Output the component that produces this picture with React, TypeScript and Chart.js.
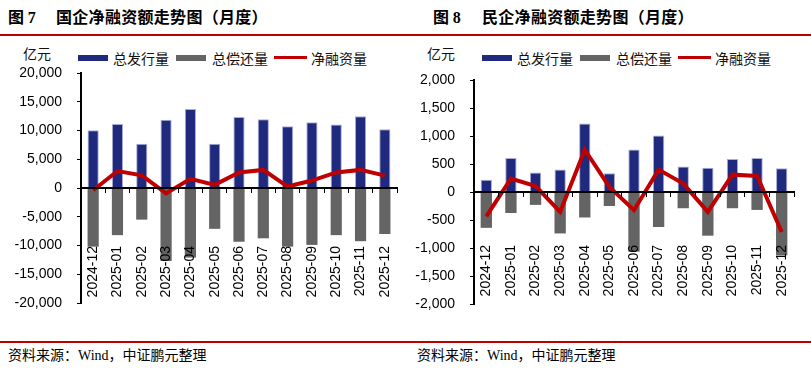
import React, { useEffect, useRef } from 'react';
import { Chart, registerables } from 'chart.js';

Chart.register(...registerables);

const categories = ['2024-12', '2025-01', '2025-02', '2025-03', '2025-04', '2025-05', '2025-06', '2025-07', '2025-08', '2025-09', '2025-10', '2025-11', '2025-12'];

// 国企 (state-owned enterprises), 亿元
const soeIssue = [10050, 11150, 7700, 11850, 13750, 7700, 12350, 11950, 10750, 11450, 11050, 12500, 10200];
const soeRepay = [-10200, -8200, -5500, -12700, -12100, -7100, -9350, -8750, -10200, -9900, -8200, -9250, -8000];
const soeNet = [-400, 2950, 2200, -950, 1600, 550, 2700, 3150, 250, 1300, 2700, 3150, 2150];

// 民企 (private enterprises), 亿元
const poeIssue = [220, 605, 350, 400, 1225, 335, 760, 1010, 455, 435, 590, 605, 425];
const poeRepay = [-640, -375, -230, -740, -455, -250, -1065, -625, -290, -780, -290, -320, -1130];
const poeNet = [-435, 240, 105, -355, 755, 90, -325, 400, 150, -355, 310, 285, -715];

const seriesNames = ['总发行量', '总偿还量', '净融资量'];
const BLUE = '#1f2a7e';
const GREY = '#646464';
const RED = '#c00000';

type PanelProps = {
  left: number;
  width: number;
  issue: number[];
  repay: number[];
  net: number[];
  min: number;
  max: number;
  step: number;
  padTop: number;
  padBottom: number;
  padRight: number;
  yWidth: number;
  xLabelPad: number;
};

function Panel(p: PanelProps) {
  const ref = useRef<HTMLCanvasElement | null>(null);
  useEffect(() => {
    if (!ref.current) return;
    const tickFont = { family: '"Liberation Sans", Arial, sans-serif', size: 14 };
    const chart = new Chart(ref.current, {
      type: 'bar',
      data: {
        labels: categories,
        datasets: [
          {
            type: 'line',
            label: seriesNames[2],
            data: p.net,
            borderColor: RED,
            backgroundColor: RED,
            borderWidth: 4,
            pointRadius: 0,
            tension: 0,
            order: 0,
          } as any,
          {
            label: seriesNames[0],
            data: p.issue,
            backgroundColor: BLUE,
            borderColor: '#a9acd6',
            borderWidth: 1,
            grouped: false,
            categoryPercentage: 1,
            barPercentage: 0.46,
            order: 1,
          } as any,
          {
            label: seriesNames[1],
            data: p.repay,
            backgroundColor: GREY,
            borderWidth: 0,
            grouped: false,
            categoryPercentage: 1,
            barPercentage: 0.46,
            order: 2,
          } as any,
        ],
      },
      options: {
        animation: false,
        responsive: false,
        maintainAspectRatio: false,
        layout: { padding: { left: 0, right: p.padRight, top: p.padTop, bottom: p.padBottom } },
        plugins: { legend: { display: false }, tooltip: { enabled: false } },
        scales: {
          x: {
            position: { y: 0 } as any,
            offset: true,
            afterFit: (s: any) => { s.paddingLeft = 0; s.paddingRight = 0; },
            grid: { display: true, drawOnChartArea: false, drawTicks: true, tickLength: 4, color: '#000', offset: true, z: 1 },
            border: { display: true, color: '#000', width: 2, z: 1 },
            ticks: {
              autoSkip: false,
              minRotation: 90,
              maxRotation: 90,
              padding: p.xLabelPad,
              color: '#000',
              font: tickFont,
              z: 1,
            },
          },
          y: {
            min: p.min,
            max: p.max,
            afterFit: (s: any) => { s.width = p.yWidth; },
            grid: { display: true, drawOnChartArea: false, drawTicks: true, tickLength: 4, color: '#000' },
            border: { display: true, color: '#000', width: 2 },
            ticks: {
              stepSize: p.step,
              padding: 15,
              color: '#000',
              font: tickFont,
              callback: (v: any) => Number(v).toLocaleString('en-US'),
            },
          },
        },
      },
    });
    return () => chart.destroy();
  }, []);
  return (
    <canvas
      ref={ref}
      width={p.width}
      height={300}
      style={{ position: 'absolute', left: p.left, top: 40, width: p.width, height: 300 }}
    />
  );
}

const cjk = '"Noto Sans CJK SC", "Noto Sans", sans-serif';

function Legend({ x }: { x: number }) {
  const txt: React.CSSProperties = { position: 'absolute', top: 49, fontFamily: cjk, fontSize: 14, lineHeight: '18px', color: '#111', whiteSpace: 'nowrap' };
  return (
    <>
      <div style={{ position: 'absolute', left: x - 55, top: 44, fontFamily: cjk, fontSize: 14, lineHeight: '18px', color: '#111' }}>亿元</div>
      <div style={{ position: 'absolute', left: x, top: 55, width: 30, height: 6, background: BLUE }} />
      <div style={{ ...txt, left: x + 35 }}>{seriesNames[0]}</div>
      <div style={{ position: 'absolute', left: x + 98, top: 55, width: 30, height: 6, background: GREY }} />
      <div style={{ ...txt, left: x + 134 }}>{seriesNames[1]}</div>
      <div style={{ position: 'absolute', left: x + 196, top: 56, width: 33, height: 3, background: RED }} />
      <div style={{ ...txt, left: x + 233 }}>{seriesNames[2]}</div>
    </>
  );
}

function Title({ x, num, text, textX }: { x: number; num: string; text: string; textX: number }) {
  return (
    <>
      <div style={{ position: 'absolute', left: x, top: 5, fontFamily: cjk, fontWeight: 700, fontSize: 16, lineHeight: '22px', color: '#000', whiteSpace: 'nowrap' }}>
        图 <span style={{ fontFamily: '"Liberation Serif", serif', fontWeight: 700 }}>{num}</span>
      </div>
      <div style={{ position: 'absolute', left: textX, top: 5, fontFamily: cjk, fontWeight: 700, fontSize: 16, lineHeight: '22px', letterSpacing: 0.3, color: '#000', whiteSpace: 'nowrap' }}>
        {text}
      </div>
    </>
  );
}

function Source({ x }: { x: number }) {
  return (
    <div style={{ position: 'absolute', left: x, top: 346, fontFamily: '"Liberation Serif", "Noto Sans CJK SC", serif', fontSize: 14, lineHeight: '20px', color: '#000', whiteSpace: 'nowrap' }}>
      资料来源：Wind，中证鹏元整理
    </div>
  );
}

export default function App() {
  return (
    <div style={{ position: 'fixed', left: 0, top: 0, width: 811, height: 370, background: '#fff', overflow: 'hidden' }}>
      <Title x={8} num="7" text="国企净融资额走势图（月度）" textX={56} />
      <Title x={433} num="8" text="民企净融资额走势图（月度）" textX={482} />
      <div style={{ position: 'absolute', left: 0, top: 34, width: 811, height: 2, background: RED }} />
      <Legend x={78} />
      <Legend x={482} />
      <Panel left={0} width={405} issue={soeIssue} repay={soeRepay} net={soeNet}
        min={-20000} max={20000} step={5000} padTop={33} padBottom={37} padRight={8} yWidth={81} xLabelPad={54} />
      <Panel left={405} width={406} issue={poeIssue} repay={poeRepay} net={poeNet}
        min={-2000} max={2000} step={500} padTop={40} padBottom={36} padRight={17} yWidth={69} xLabelPad={49} />
      <div style={{ position: 'absolute', left: 0, top: 341, width: 811, height: 2, background: RED }} />
      <Source x={8} />
      <Source x={417} />
    </div>
  );
}
